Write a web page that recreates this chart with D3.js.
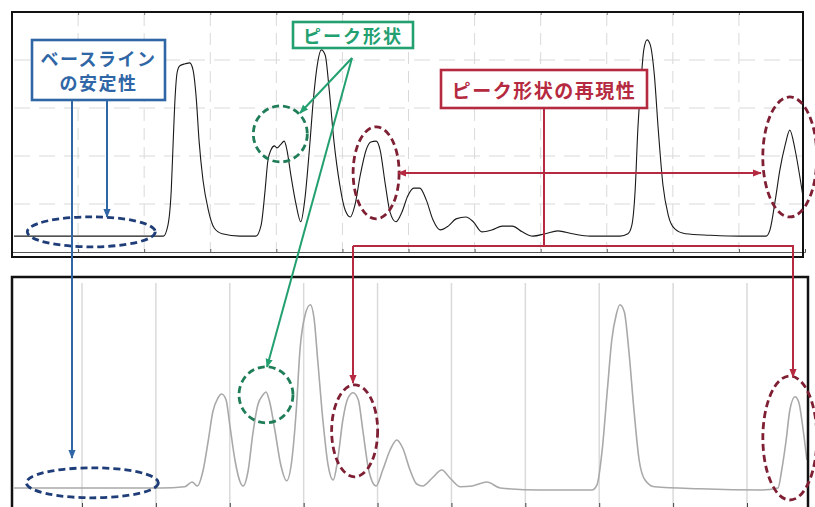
<!DOCTYPE html>
<html><head><meta charset="utf-8">
<script src="https://cdn.jsdelivr.net/npm/d3@7"></script>
<style>html,body{margin:0;padding:0;background:#fff;}svg{display:block;}</style>
</head><body>
<svg id="c" width="815" height="507"></svg>
<script>
// ---------- DATA ----------
// Upper chromatogram (retention time, min / signal, a.u.)
const topTime = [0.03,1.00,2.00,2.29,2.36,2.41,2.44,2.47,2.50,2.54,2.62,2.69,2.74,2.79,2.83,2.89,2.97,3.06,3.18,3.45,3.69,3.77,3.83,3.87,3.92,3.97,4.01,4.06,4.12,4.16,4.22,4.30,4.37,4.43,4.50,4.56,4.62,4.68,4.74,4.80,4.87,4.96,5.04,5.12,5.19,5.27,5.36,5.43,5.51,5.57,5.65,5.72,5.81,5.90,5.99,6.08,6.17,6.27,6.37,6.48,6.60,6.72,6.87,6.98,7.11,7.26,7.42,7.57,7.72,7.88,8.07,8.26,8.48,8.75,9.20,9.32,9.38,9.43,9.47,9.52,9.56,9.61,9.66,9.72,9.78,9.85,9.93,10.03,10.19,10.56,11.02,11.41,11.47,11.55,11.62,11.70,11.77,11.85,11.93,11.99];
const topSignal = [0.33,0.33,0.33,0.33,0.56,1.29,2.33,3.27,3.75,3.88,3.92,3.94,3.79,3.17,2.33,1.50,0.88,0.50,0.38,0.33,0.33,0.56,1.29,1.88,2.13,2.21,2.17,2.23,2.31,2.13,1.60,0.98,0.63,1.08,2.13,3.17,3.90,4.21,4.10,3.38,2.33,1.40,0.88,0.73,0.98,1.60,2.13,2.29,2.31,2.13,1.40,0.83,0.63,0.83,1.17,1.33,1.33,1.08,0.67,0.46,0.54,0.69,0.73,0.63,0.42,0.46,0.54,0.54,0.42,0.33,0.38,0.44,0.38,0.33,0.33,0.38,0.56,1.29,2.54,3.58,4.21,4.42,4.31,3.69,2.54,1.40,0.77,0.48,0.38,0.35,0.33,0.33,0.46,1.08,1.71,2.23,2.54,2.13,1.50,0.98];
// Lower chromatogram
const botTime = [0.08,1.24,2.06,2.39,2.49,2.56,2.64,2.71,2.77,2.84,2.89,2.95,3.00,3.07,3.14,3.18,3.25,3.31,3.38,3.45,3.49,3.54,3.61,3.69,3.77,3.84,3.90,3.95,4.02,4.09,4.14,4.19,4.26,4.33,4.40,4.46,4.53,4.60,4.67,4.74,4.80,4.88,4.98,5.07,5.17,5.26,5.34,5.44,5.53,5.61,5.74,5.87,5.98,6.12,6.28,6.48,6.66,7.20,7.90,7.97,8.04,8.11,8.17,8.23,8.28,8.34,8.40,8.47,8.54,8.62,8.75,9.36,10.18,10.42,10.47,10.53,10.58,10.65,10.70,10.76,10.81];
const botSignal = [0.05,0.05,0.05,0.08,0.20,0.10,0.50,1.25,1.95,2.30,2.40,2.25,1.63,0.75,0.20,0.10,0.50,1.38,2.13,2.38,2.45,2.20,1.50,0.63,0.23,0.75,2.00,3.50,4.38,4.63,4.30,3.25,1.75,0.63,0.25,0.75,1.75,2.30,2.43,2.25,1.50,0.50,0.10,0.50,1.00,1.25,1.05,0.50,0.15,0.10,0.30,0.50,0.30,0.08,0.10,0.20,0.05,0.00,0.00,0.13,1.00,2.50,3.75,4.38,4.63,4.45,3.50,2.00,0.75,0.25,0.08,0.03,0.00,0.05,0.50,1.25,2.00,2.33,2.20,1.50,0.75];
const topXTicks = [1,2,3,4,5,6,7,8,9,10,11];
const topYTicks = [1,2,3,4];
const botXTicks = [1,2,3,4,5,6,7,8,9,10];
const labels = {baseline:["ベースライン","の安定性"], shape:"ピーク形状", repro:"ピーク形状の再現性"};

// ---------- SCALES ----------
const svg = d3.select("#c");
const xT = d3.scaleLinear().domain([0,12]).range([12,805]);
const yT = d3.scaleLinear().domain([0,5]).range([252,12]);
const xB = d3.scaleLinear().domain([1,10]).range([82,747]);
const yB = d3.scaleLinear().domain([0,5]).range([490,290]);

const defs = svg.append("defs");
defs.append("clipPath").attr("id","clipT").append("rect").attr("x",13).attr("y",13).attr("width",789).attr("height",243);
defs.append("clipPath").attr("id","clipB").append("rect").attr("x",13).attr("y",278).attr("width",794).attr("height",240);
function marker(id,color){
  defs.append("marker").attr("id",id).attr("viewBox","0 0 10 10").attr("refX",9).attr("refY",5)
    .attr("orient","auto-start-reverse")
    .attr("markerUnits","userSpaceOnUse").attr("markerWidth",9).attr("markerHeight",9)
    .append("path").attr("d","M0,1 L10,5 L0,9 z").attr("fill",color);
}
const BLUE="#2f67a6", GREEN="#23a070", RED="#b52a40";
marker("mb",BLUE); marker("mg",GREEN); marker("mr",RED);

// ---------- TOP PANEL ----------
const gT = svg.append("g");
const gridT = gT.append("g").attr("clip-path","url(#clipT)");
gridT.selectAll(".vx").data(topXTicks).join("line")
  .attr("x1",d=>xT(d)).attr("x2",d=>xT(d)).attr("y1",14).attr("y2",250)
  .attr("stroke","#d9d9d9").attr("stroke-width",1).attr("stroke-dasharray","12,7");
gridT.selectAll(".hy").data(topYTicks).join("line")
  .attr("x1",14).attr("x2",802).attr("y1",d=>yT(d)).attr("y2",d=>yT(d))
  .attr("stroke","#d9d9d9").attr("stroke-width",1).attr("stroke-dasharray","16,9");
gT.append("g").attr("transform",`translate(0,${yT(0)})`)
  .call(d3.axisBottom(xT).tickValues(topXTicks).tickSize(-3).tickFormat(""))
  .call(g=>g.select(".domain").attr("stroke","#555").attr("stroke-width",1))
  .call(g=>g.selectAll(".tick line").attr("stroke","#555"));
gT.append("g").attr("transform","translate(0,12)")
  .call(d3.axisBottom(xT).tickValues(topXTicks).tickSize(3).tickFormat(""))
  .call(g=>g.select(".domain").remove())
  .call(g=>g.selectAll(".tick line").attr("stroke","#777"));
const topData = topTime.map((t,i)=>[t,topSignal[i]]);
gT.append("path").datum(topData).attr("clip-path","url(#clipT)")
  .attr("d",d3.line().x(d=>xT(d[0])).y(d=>yT(d[1])).curve(d3.curveMonotoneX))
  .attr("fill","none").attr("stroke","#1a1a1a").attr("stroke-width",1.1);
gT.append("rect").attr("x",12).attr("y",12).attr("width",791).attr("height",245)
  .attr("fill","none").attr("stroke","#111").attr("stroke-width",2);

// ---------- BOTTOM PANEL ----------
const gB = svg.append("g");
gB.append("g").attr("clip-path","url(#clipB)").selectAll("line").data(botXTicks).join("line")
  .attr("x1",d=>xB(d)).attr("x2",d=>xB(d)).attr("y1",283).attr("y2",507)
  .attr("stroke","#dadada").attr("stroke-width",1.5);
gB.append("g").attr("transform","translate(0,507)")
  .call(d3.axisBottom(xB).tickValues(botXTicks).tickSize(-4).tickFormat(""))
  .call(g=>g.select(".domain").remove())
  .call(g=>g.selectAll(".tick line").attr("stroke","#444"));
const botData = botTime.map((t,i)=>[t,botSignal[i]]);
gB.append("path").datum(botData).attr("clip-path","url(#clipB)")
  .attr("d",d3.line().x(d=>xB(d[0])).y(d=>yB(d[1])).curve(d3.curveMonotoneX))
  .attr("fill","none").attr("stroke","#a9a9a9").attr("stroke-width",1.6);
gB.append("rect").attr("x",12).attr("y",277).attr("width",796).attr("height",250)
  .attr("fill","none").attr("stroke","#111").attr("stroke-width",2.5);

// ---------- ANNOTATIONS ----------
const gA = svg.append("g");
function ell(cx,cy,rx,ry,color){
  gA.append("ellipse").attr("cx",cx).attr("cy",cy).attr("rx",rx).attr("ry",ry)
    .attr("fill","none").attr("stroke",color).attr("stroke-width",2.8).attr("stroke-dasharray","7,4");
}
function arrow(pts,color,m,start,end=true){
  const p = gA.append("path").attr("d",d3.line()(pts)).attr("fill","none")
    .attr("stroke",color).attr("stroke-width",2);
  if(end) p.attr("marker-end",`url(#${m})`);
  if(start) p.attr("marker-start",`url(#${m})`);
}
// blue: baseline stability
ell(xT(1.20),yT(0.42),64,15,"#1f3d78");
ell(xB(1.14),yB(0.18),66,15,"#1f3d78");
arrow([[72,100],[72,458]],BLUE,"mb");
arrow([[107,100],[107,217]],BLUE,"mb");
// green: peak shape
ell(xT(4.06),yT(2.46),27,28,"#1f7d58");
ell(xB(3.49),yB(2.38),27,28,"#1f7d58");
arrow([[352,58],[300,113]],GREEN,"mg");
arrow([[352,58],[267,367]],GREEN,"mg");
// red: reproducibility
ell(xT(5.51),yT(1.65),23,46,"#7f1f33");
ell(xT(11.77),yT(1.98),27,60,"#7f1f33");
ell(xB(4.69),yB(1.48),23,46,"#7f1f33");
ell(xB(10.58),yB(1.30),27,62,"#7f1f33");
arrow([[544,108],[544,247]],RED,"mr",false,false);
arrow([[398,173],[761,173]],RED,"mr",true);
arrow([[353,246],[353,383]],RED,"mr");
arrow([[353,246],[793,246],[793,377]],RED,"mr");

function box(x,y,w,h,color,lines,fs,ls){
  gA.append("rect").attr("x",x).attr("y",y).attr("width",w).attr("height",h)
    .attr("fill","#fff").attr("stroke",color).attr("stroke-width",2.6);
  const n=lines.length, lh=fs*1.35;
  lines.forEach((t,i)=>{
    gA.append("text").attr("x",x+w/2).attr("y",y+h/2+(i-(n-1)/2)*lh)
      .attr("text-anchor","middle").attr("dominant-baseline","central")
      .attr("font-family","'Noto Sans CJK JP','Noto Sans',sans-serif").attr("font-weight","bold")
      .attr("font-size",fs).attr("letter-spacing",ls).attr("fill",color).text(t);
  });
}
box(32,40,133,60,BLUE,labels.baseline,18,1.5);
box(293,22,120,26,GREEN,[labels.shape],18,2);
box(441,70,206,38,RED,[labels.repro],19,1.5);
</script>
</body></html>
